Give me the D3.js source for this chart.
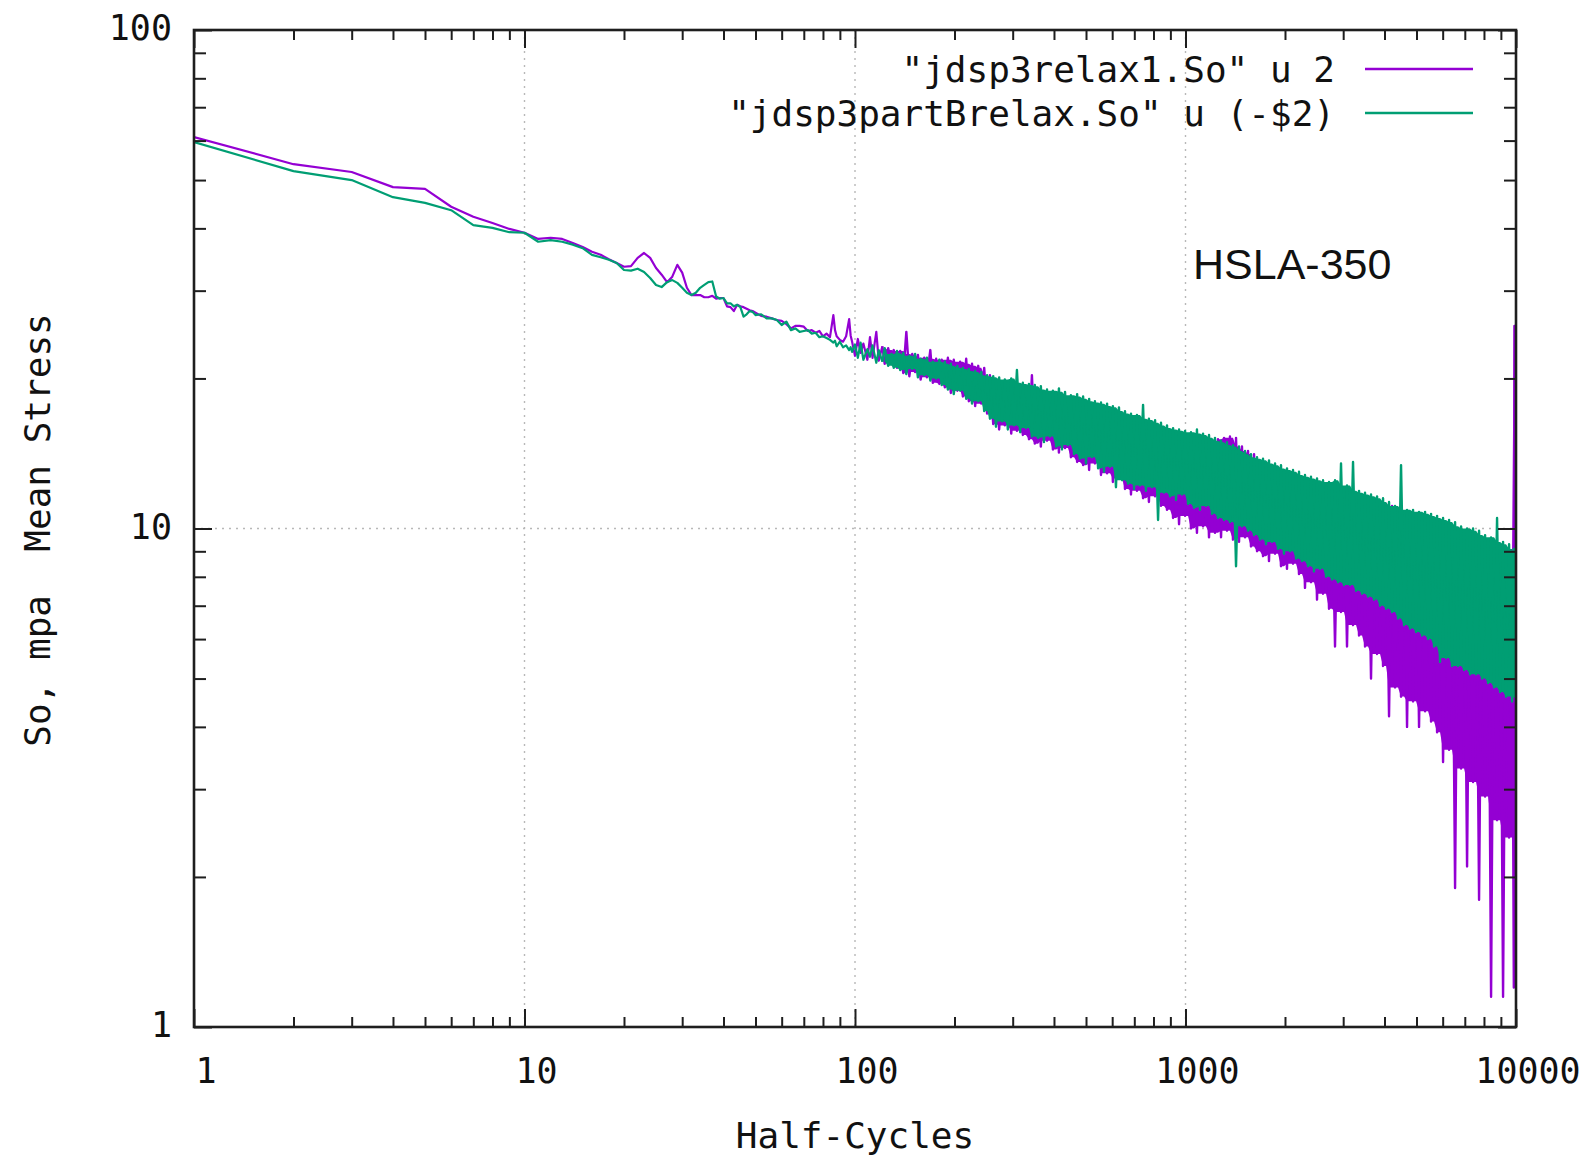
<!DOCTYPE html>
<html><head><meta charset="utf-8">
<script src="https://cdn.jsdelivr.net/npm/d3@7"></script>
<style>html,body{margin:0;padding:0;background:#fff;}svg{display:block;}</style>
</head><body><svg id="chart" width="1596" height="1159"></svg>
<script>
// ---------- data ----------
const seriesNames = ['"jdsp3relax1.So" u 2', '"jdsp3partBrelax.So" u (-$2)'];
const xTickValues = [1, 10, 100, 1000, 10000];
const xTickLabels = ["1", "10", "100", "1000", "10000"];
const yTickValues = [1, 10, 100];
const yTickLabels = ["1", "10", "100"];
const xAxisTitle = "Half-Cycles";
const yAxisTitle = "So, mpa  Mean Stress";
const annotation = "HSLA-350";

const cyclesEarly = [1,2,3,4,5,6,7,8,9,10,11,12,13,14,15,16,17,18,19,20,21,22,23,24,25,26,27,28,29,30,31,32,33,34,35,36,37,38,39,40];
const relax1Early = [61.0,53.8,51.9,48.4,48.0,44.2,42.2,41.0,39.9,39.2,38.1,38.3,38.1,37.4,36.7,35.9,35.4,34.7,34.1,33.5,33.6,34.9,35.7,34.9,33.3,32.3,31.2,32.0,33.8,32.6,30.4,29.4,29.4,29.4,29.1,29.1,29.3,28.9,29.0,29.0];
const partBEarly = [59.6,52.1,50.0,46.2,45.0,43.5,40.6,40.1,39.3,39.2,37.6,37.9,37.6,37.1,36.5,35.4,35.0,34.6,34.1,33.0,32.9,33.2,32.7,31.8,30.8,30.5,31.2,31.5,31.1,30.4,29.7,29.4,29.7,30.4,30.8,31.2,31.3,29.2,28.9,29.0];

const cyclesMid = [41,42,43,44,45,46,47,48,49,50,52,54,56,58,60,62,64,66,68,70,72,74,76,78,80,82,84,86,87,88,90,92,94,96,97,98];
const relax1Mid = [27.9,27.8,27.3,28.1,27.9,27.8,27.6,27.4,27.3,27.1,26.7,26.6,26.4,26.2,26.1,25.7,25.2,25.5,25.5,25.4,24.9,25.0,24.7,24.9,24.3,24.6,24.2,26.8,25.0,24.3,23.9,23.7,24.3,26.3,24.4,23.7];
const partBMid = [28.3,28.3,27.9,28.1,27.8,26.6,26.9,27.3,27.2,26.8,26.9,26.4,26.4,26.2,25.6,26.0,25.0,25.2,24.8,24.9,25.0,24.6,24.7,24.2,24.3,24.1,23.9,23.6,23.8,23.2,23.7,23.1,23.3,22.8,23.1,22.6];

const cyclesLate = [
100,102,104,106,109,111,113,116,118,121,123,126,129,131,134,
137,140,143,146,149,152,155,158,162,165,169,172,176,180,183,
187,191,195,199,204,208,212,217,221,226,231,236,241,246,251,
256,262,267,273,279,284,290,297,303,309,316,322,329,336,343,
350,358,365,373,381,389,397,406,414,423,432,441,450,460,470,
479,490,500,511,521,532,544,555,567,579,591,603,616,629,643,
656,670,684,699,713,728,744,759,775,792,809,826,843,861,879,
898,917,936,956,976,997,1018,1039,1061,1083,1106,1130,1153,1178,1203,
1228,1254,1281,1308,1335,1363,1392,1422,1452,1482,1514,1546,1578,1612,1646,
1680,1716,1752,1789,1827,1866,1905,1945,1986,2028,2071,2115,2160,2205,2252,
2299,2348,2397,2448,2500,2553,2607,2662,2718,2775,2834,2894,2955,3017,3081,
3146,3213,3281,3350,3421,3493,3567,3642,3719,3798,3878,3960,4044,4129,4216,
4305,4396,4489,4584,4681,4780,4881,4984,5089,5197,5307,5419,5533,5650,5770,
5891,6016,6143,6273,6405,6541,6679,6820,6964,7111,7261,7415,7571,7731,7895,
8061,8232,8406,8583,8764,8949,9138,9331,9528,9729,9850,9890,10000];

const relax1Late = [
22.2,24.0,22.5,23.5,21.8,24.2,22.0,24.8,21.7,23.2,21.4,23.0,21.6,22.8,21.0,
22.7,20.5,24.8,20.2,22.4,20.6,22.3,19.9,22.0,20.1,22.8,19.6,21.9,19.5,21.8,
19.2,22.0,18.7,21.8,18.9,21.6,18.4,21.9,18.0,21.4,17.6,21.2,17.8,21.0,17.0,
20.3,16.2,19.8,15.8,19.6,16.1,19.4,15.5,19.5,15.7,19.2,15.4,19.0,15.1,20.3,
14.8,18.8,14.6,18.6,15.0,18.4,14.4,18.5,14.2,18.2,14.5,18.0,13.9,18.1,13.6,
18.0,13.4,17.9,13.1,17.7,13.5,17.5,12.8,17.4,12.9,17.3,12.4,17.2,12.6,17.0,
12.0,16.7,11.7,16.5,11.9,16.4,11.5,16.3,11.3,16.1,11.6,16.0,11.1,15.8,10.9,
15.5,10.5,15.3,10.2,15.2,10.6,15.0,10.0,15.0,9.8,14.8,10.1,14.7,9.6,14.6,
9.8,15.1,9.6,15.2,9.9,15.3,9.5,15.2,9.4,14.6,9.6,14.3,9.2,14.1,9.0,
13.3,8.8,13.2,8.6,13.1,8.9,12.9,8.4,12.8,8.3,12.6,8.5,12.5,8.1,12.4,
7.6,12.4,7.8,12.3,7.2,12.2,7.4,12.1,6.9,12.0,5.8,11.9,6.8,11.8,5.8,
11.8,6.4,11.7,6.1,11.6,5.8,11.5,5.0,11.4,5.6,11.3,5.3,11.2,4.2,11.1,
4.8,10.9,4.6,10.8,4.0,10.7,4.5,10.6,4.0,10.6,4.3,10.5,4.1,10.4,3.9,
10.2,3.4,10.1,3.6,10.0,1.9,9.9,3.3,9.8,2.1,9.8,3.1,9.7,1.8,9.6,
2.9,9.5,1.15,9.3,2.6,9.2,1.15,9.1,2.4,9.0,1.2,25.5,25.5];

const partBLate = [
23.4,22.0,23.6,21.8,22.9,22.1,23.3,21.5,22.8,21.6,23.0,21.2,22.4,21.0,22.7,
20.8,22.5,20.4,22.2,20.9,22.4,20.1,21.9,20.3,22.0,19.8,21.6,20.0,21.8,19.4,
21.6,19.0,21.4,18.6,21.2,18.9,21.0,18.2,20.9,17.8,20.7,18.0,20.6,17.2,20.3,
16.6,20.2,16.0,20.1,16.4,19.9,15.8,20.0,16.1,20.8,15.6,19.6,15.9,19.5,15.3,
19.4,15.2,19.3,14.9,19.0,15.3,18.9,14.6,19.1,14.4,18.8,14.7,18.5,14.1,18.6,
13.8,18.4,13.5,18.2,13.9,18.0,13.2,17.9,13.0,17.8,13.3,17.6,12.1,17.5,12.5,
17.2,12.3,17.0,12.0,16.9,12.2,17.7,11.9,16.6,12.1,16.5,10.4,16.3,11.8,16.1,
11.6,15.9,11.4,15.8,11.7,15.7,11.2,15.6,11.0,15.8,10.9,15.5,11.1,15.4,10.7,
15.2,10.5,15.0,10.4,14.9,10.3,14.7,8.4,14.6,10.1,14.3,9.9,14.1,9.7,13.9,
9.5,13.8,9.3,13.7,9.4,13.5,9.1,13.4,8.9,13.2,9.0,13.1,8.7,13.0,8.6,
12.8,8.4,12.7,8.2,12.6,8.3,12.5,8.0,12.4,7.9,12.5,7.8,13.5,7.7,12.2,
7.7,13.6,7.5,11.9,7.4,11.8,7.3,11.7,7.2,11.6,7.0,11.5,6.9,11.3,6.8,
11.1,6.6,13.4,6.4,10.9,6.3,10.9,6.2,10.8,6.1,10.8,6.0,10.7,5.8,10.6,
5.4,10.5,5.5,10.4,5.3,10.3,5.3,10.1,5.2,10.0,5.1,10.0,5.1,9.9,5.0,
9.7,4.9,9.6,4.8,10.5,4.7,9.4,4.6,9.3,4.5,9.1,4.6,8.8];

const seriesColors = ["#9400d3", "#009e73"];

// ---------- build series ----------
const cycles = cyclesEarly.concat(cyclesMid, cyclesLate);
const series = [
  {name: seriesNames[0], color: seriesColors[0], values: relax1Early.concat(relax1Mid, relax1Late)},
  {name: seriesNames[1], color: seriesColors[1], values: partBEarly.concat(partBMid, partBLate)}
];

// ---------- layout ----------
const L = 194, R = 1516, T = 30, B = 1027;
const x = d3.scaleLog().domain([1, 10000]).range([L, R]);
const y = d3.scaleLog().domain([1, 100]).range([B, T]);
const svg = d3.select("#chart");
const mono = "'DejaVu Sans Mono', 'Liberation Mono', monospace";
const ink = "#1e1e1e";

// grid
const gx = xTickValues.slice(1, -1), gy = yTickValues.slice(1, -1);
const grid = svg.append("g").attr("stroke", "#b8b8b8").attr("stroke-width", 1.4).attr("stroke-dasharray", "2,5");
grid.selectAll(".gx").data(gx).join("line").attr("x1", d => x(d)).attr("x2", d => x(d)).attr("y1", T).attr("y2", B);
grid.selectAll(".gy").data(gy).join("line").attr("y1", d => y(d)).attr("y2", d => y(d)).attr("x1", L).attr("x2", R);

// data
svg.append("defs").append("clipPath").attr("id", "clip").append("rect")
  .attr("x", L).attr("y", T).attr("width", R - L).attr("height", B - T);
const line = d3.line().x(d => x(d[0])).y(d => y(d[1]));
const area = d3.area().x(d => x(d.c)).y0(d => y(d.lo)).y1(d => y(d.hi));
const splitAt = 121;
// the noisy part is so dense in the original that the line covers a solid band:
// shade the band that four consecutive samples always span (inner envelope)
function coveredBand(pts) {
  const out = [];
  for (let j = 1; j < pts.length - 2; j++) {
    const w = [pts[j - 1][1], pts[j][1], pts[j + 1][1], pts[j + 2][1]].sort((a, b) => a - b);
    out.push({c: pts[j][0], lo: w[1], hi: w[2]});
  }
  return out;
}
const plot = svg.append("g").attr("clip-path", "url(#clip)");
series.forEach(s => {
  const pts = cycles.map((c, i) => [c, s.values[i]]);
  const dense = pts.filter(p => p[0] >= splitAt);
  plot.append("path").attr("d", area(coveredBand(dense))).attr("fill", s.color).attr("stroke", "none");
  plot.append("path").attr("d", line(pts.filter(p => p[0] <= splitAt)))
    .attr("fill", "none").attr("stroke", s.color).attr("stroke-width", 2.2).attr("stroke-linejoin", "round");
  plot.append("path").attr("d", line(dense))
    .attr("fill", "none").attr("stroke", s.color).attr("stroke-width", 2.4).attr("stroke-linejoin", "round");
});

// ticks (inward, mirrored)
const xMinor = x.ticks().filter(v => !xTickValues.includes(v));
const yMinor = y.ticks().filter(v => !yTickValues.includes(v));
function axisG(axis) {
  return g => { g.call(axis); g.select(".domain").remove(); g.selectAll("line").attr("stroke", ink).attr("stroke-width", 2); g.selectAll("text").remove(); };
}
svg.append("g").attr("transform", `translate(0,${B})`).call(axisG(d3.axisBottom(x).tickValues(xTickValues).tickSize(-18)));
svg.append("g").attr("transform", `translate(0,${B})`).call(axisG(d3.axisBottom(x).tickValues(xMinor).tickSize(-10)));
svg.append("g").attr("transform", `translate(0,${T})`).call(axisG(d3.axisTop(x).tickValues(xTickValues).tickSize(-18)));
svg.append("g").attr("transform", `translate(0,${T})`).call(axisG(d3.axisTop(x).tickValues(xMinor).tickSize(-10)));
svg.append("g").attr("transform", `translate(${L},0)`).call(axisG(d3.axisLeft(y).tickValues(yTickValues).tickSize(-18)));
svg.append("g").attr("transform", `translate(${L},0)`).call(axisG(d3.axisLeft(y).tickValues(yMinor).tickSize(-12)));
svg.append("g").attr("transform", `translate(${R},0)`).call(axisG(d3.axisRight(y).tickValues(yTickValues).tickSize(-18)));
svg.append("g").attr("transform", `translate(${R},0)`).call(axisG(d3.axisRight(y).tickValues(yMinor).tickSize(-12)));

// frame
svg.append("rect").attr("x", L).attr("y", T).attr("width", R - L).attr("height", B - T)
  .attr("fill", "none").attr("stroke", ink).attr("stroke-width", 2.6);

// tick labels
svg.append("g").selectAll("text").data(xTickValues).join("text")
  .attr("x", d => x(d) + 12).attr("y", B + 56).attr("text-anchor", "middle")
  .attr("font-family", mono).attr("font-size", 35).attr("fill", "#111")
  .text((d, i) => xTickLabels[i]);
svg.append("g").selectAll("text").data(yTickValues).join("text")
  .attr("x", L - 22).attr("y", d => y(d) + 10).attr("text-anchor", "end")
  .attr("font-family", mono).attr("font-size", 35).attr("fill", "#111")
  .text((d, i) => yTickLabels[i]);

// axis titles
svg.append("text").attr("x", (L + R) / 2).attr("y", 1148).attr("text-anchor", "middle")
  .attr("font-family", mono).attr("font-size", 36).attr("fill", "#111").text(xAxisTitle);
svg.append("text").attr("transform", "translate(50,530) rotate(-90)").attr("text-anchor", "middle")
  .attr("font-family", mono).attr("font-size", 36).attr("fill", "#111")
  .style("white-space", "pre").text(yAxisTitle);

// annotation
svg.append("text").attr("x", 1193).attr("y", 279)
  .attr("font-family", "'Liberation Sans', Arial, sans-serif").attr("font-size", 43).attr("fill", "#111").text(annotation);

// legend
const leg = svg.append("g").selectAll("g").data(series).join("g")
  .attr("transform", (d, i) => `translate(0,${69 + i * 44})`);
leg.append("text").attr("x", 1335).attr("y", 13).attr("text-anchor", "end")
  .attr("font-family", mono).attr("font-size", 36).attr("fill", "#111")
  .style("white-space", "pre").text(d => d.name);
leg.append("line").attr("x1", 1365).attr("x2", 1473).attr("y1", 0).attr("y2", 0)
  .attr("stroke", d => d.color).attr("stroke-width", 2.5);
</script>
</body></html>
